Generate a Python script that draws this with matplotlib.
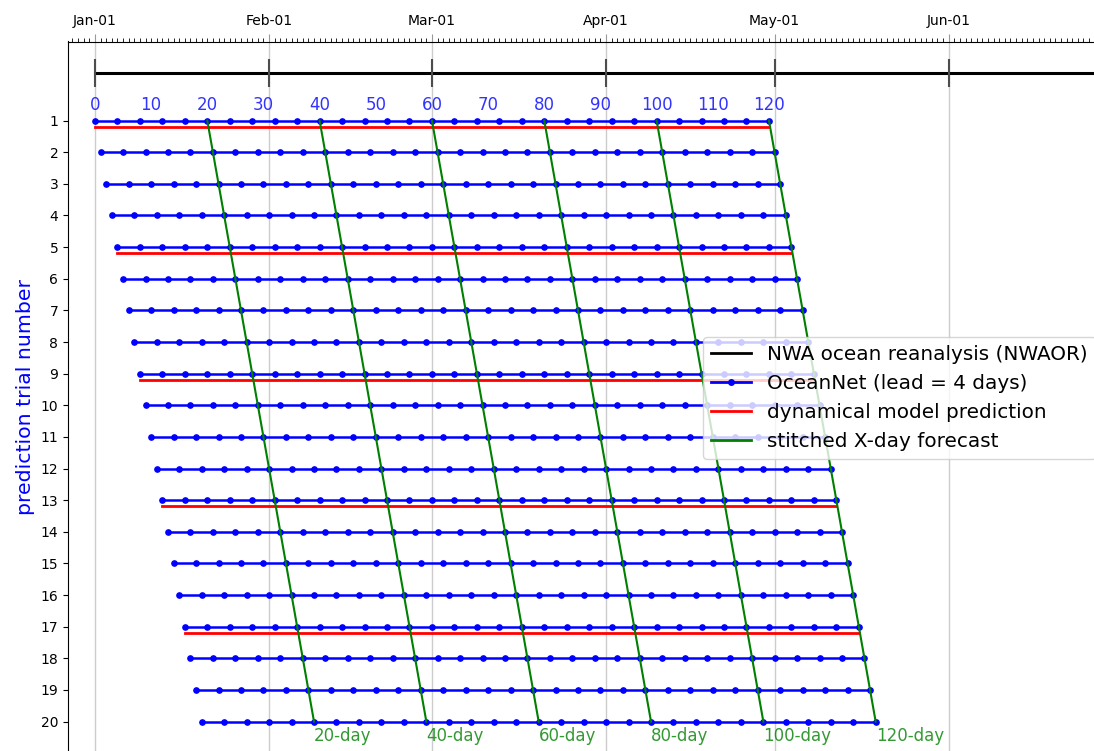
import numpy as np
import matplotlib
matplotlib.use("Agg")
import matplotlib.pyplot as plt
from matplotlib.lines import Line2D

# --- data -------------------------------------------------------------
n_trials = 20
trial_numbers = list(range(1, n_trials + 1))
trial_start_day = [t - 1 for t in trial_numbers]        # each trial starts one day later
forecast_length = 120                                    # days per trial
oceannet_lead = 4                                        # days between OceanNet steps
dynamical_trials = [1, 5, 9, 13, 17]                     # trials with a dynamical-model run
stitch_days = [20, 40, 60, 80, 100, 120]                 # stitched X-day forecast horizons
day_labels = [0, 10, 20, 30, 40, 50, 60, 70, 80, 90, 100, 110, 120]
month_days = [0, 31, 60, 91, 121, 152]                   # first of each month (leap year)
month_labels = ["Jan-01", "Feb-01", "Mar-01", "Apr-01", "May-01", "Jun-01"]
reanalysis_span = [0, 190]

# --- figure -----------------------------------------------------------
W, H = 1094, 751
fig = plt.figure(figsize=(W / 100, H / 100), dpi=100)

x0, x1 = -4.8, 180.0
y_top, y_bot = -1.5, 21.0
px_per_day = 674 / 120
px_per_row = 601 / 19
ax_left = 68
ax_top = 41.5
ax_w = (x1 - x0) * px_per_day
ax_h = (y_bot - y_top) * px_per_row
ax = fig.add_axes([ax_left / W, 1 - (ax_top + ax_h) / H, ax_w / W, ax_h / H])

# month gridlines
for d in month_days:
    ax.axvline(d, color="0.8", lw=1.0, zorder=0)

# reanalysis line with month markers
ax.plot(reanalysis_span, [-0.5, -0.5], color="black", lw=2.2, zorder=2)
ax.plot(month_days, [-0.5] * len(month_days), ls="none", marker="|",
        ms=20, mew=1.5, color="0.3", zorder=3)

# OceanNet trials
for t, s in zip(trial_numbers, trial_start_day):
    days = np.arange(s, s + forecast_length + 1, oceannet_lead)
    ax.plot(days, [t] * len(days), color="blue", lw=1.8, marker="o", ms=3.8, zorder=3)

# dynamical model predictions
for t in dynamical_trials:
    s = trial_start_day[t - 1]
    ax.plot([s, s + forecast_length], [t + 0.2, t + 0.2], color="red", lw=2.0, zorder=2)

# stitched X-day forecasts
for X in stitch_days:
    xs = [s + X for s in trial_start_day]
    ax.plot(xs, trial_numbers, color="green", lw=1.5, zorder=4)
    ax.text(xs[-1], n_trials + 0.45, f"{X}-day", color="green", alpha=0.8,
            fontsize=12, ha="left", va="center")

# day-of-forecast labels
for d in day_labels:
    ax.text(d, 0.5, str(d), color="blue", alpha=0.8, fontsize=12,
            ha="center", va="center")

ax.set_xlim(x0, x1)
ax.set_ylim(y_bot, y_top)

ax.xaxis.tick_top()
ax.set_xticks(month_days)
ax.set_xticklabels(month_labels, fontsize=10)
ax.set_xticks(np.arange(-4, 181, 1), minor=True)
ax.tick_params(axis="x", which="major", length=6, color="0.6")
ax.tick_params(axis="x", which="minor", length=3)

ax.set_yticks(trial_numbers)
ax.set_yticklabels([str(t) for t in trial_numbers], fontsize=10)
ax.set_ylabel("prediction trial number", color="blue", fontsize=14.7)

handles = [
    Line2D([], [], color="black", lw=2),
    Line2D([], [], color="blue", lw=2, marker="o", ms=4),
    Line2D([], [], color="red", lw=2),
    Line2D([], [], color="green", lw=2),
]
labels = ["NWA ocean reanalysis (NWAOR)", "OceanNet (lead = 4 days)",
          "dynamical model prediction", "stitched X-day forecast"]
fig.legend(handles, labels, loc="upper left",
           bbox_to_anchor=(703 / W, 1 - 337 / H), bbox_transform=fig.transFigure,
           borderaxespad=0, fontsize=14.4)

fig.savefig("out.png", dpi=100)
